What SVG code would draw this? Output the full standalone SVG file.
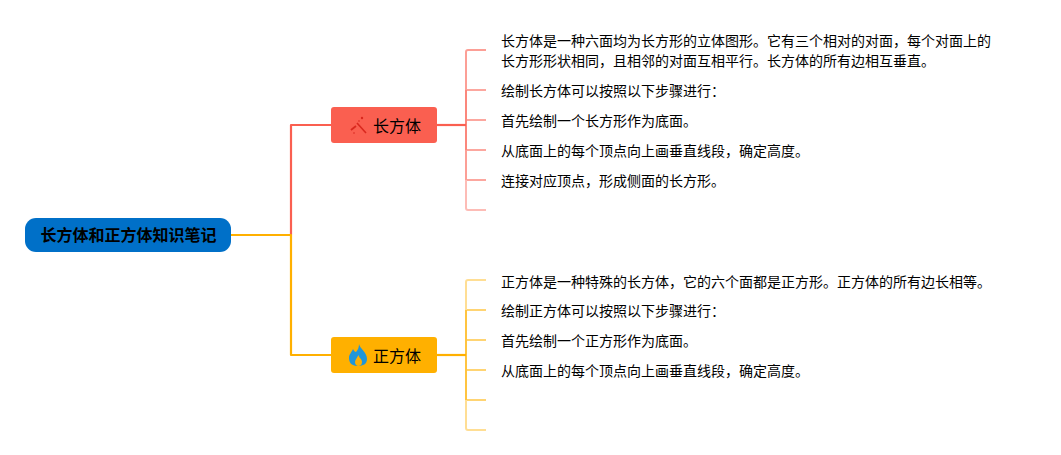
<svg xmlns="http://www.w3.org/2000/svg" width="1061" height="455" viewBox="0 0 1061 455">
<style>
text{font-family:"Noto Sans CJK SC","Noto Sans",sans-serif;fill:#000}
.leaf{font-size:14px}
.b{font-size:16px}
.c{fill:none;stroke-width:2.2;stroke-linejoin:round}
.r{stroke:#fa5f50}.o{stroke:#ffb000}
.t{stroke-width:2}
.a{opacity:.75}.d{opacity:.6}.e{opacity:.42}.s{opacity:.55}
</style>
<rect width="1061" height="455" fill="#fff"/>
<g id="connectors">
<path class="c r" d="M291 235V125H331"/>
<path class="c o" d="M231 235H291V355H331"/>
<path class="c r" d="M437 125H466"/>
<path class="c o" d="M437 355H466"/>
<g class="c r t">
<path class="a" d="M466 125V90"/>
<path class="a" d="M466 125V150"/>
<path class="d" d="M466 150V180"/>
<path class="d" d="M466 90V52Q466 50 468 50H486"/>
<path class="e" d="M466 180V208Q466 210 468 210H486"/>
<path class="s" d="M467 90H486M467 120H486M467 150H486M467 180H486"/>
</g>
<g class="c o t">
<path class="a" d="M466 355V310"/>
<path class="a" d="M466 355V400"/>
<path class="e" d="M466 310V282Q466 280 468 280H486"/>
<path class="e" d="M466 400V428Q466 430 468 430H486"/>
<path class="s" d="M467 310H486M467 340H486M467 370H486M467 400H486"/>
</g>
</g>
<g id="root">
<rect x="25" y="218" width="206" height="34" rx="11" fill="#0070c8"/>
<text x="128.500" y="241" font-size="16" font-weight="700" text-anchor="middle">长方体和正方体知识笔记</text>
</g>
<g id="branch1">
<rect x="331" y="107" width="106" height="36" rx="3" fill="#fa5f50"/>
<g fill="#d9281e" stroke="#d9281e">
<path d="M357 123L366 133" stroke-width="1.600" fill="none"/>
<circle cx="362" cy="118" r="1.200" stroke="none"/>
<path d="M351 130L356 126" stroke-width="1.800" fill="none"/>
<circle cx="359" cy="121" r=".8" stroke="none"/>
<circle cx="354" cy="133" r=".8" stroke="none"/>
</g>
<text class="b" x="373" y="132">长方体</text>
</g>
<g id="branch2">
<rect x="331" y="337" width="106" height="36" rx="3" fill="#ffb000"/>
<path d="M359 344C360 349 367 352 367 359C367 364 363 366 358 366C353 366 349 364 349 358C349 354 352 352 353 349C354 351 355 352 356 352C358 350 359 347 359 344Z" fill="#2196d8"/>
<path d="M358.500 355C359 358 362 359 362 362C362 365 360 366 358.500 366C356 366 355 364 355 362C355 360 357 358 358.500 355Z" fill="#ffb000"/>
<text class="b" x="373" y="362">正方体</text>
</g>
<g id="leaf1"><text class="leaf" x="501" y="46">长方体是一种六面均为长方形的立体图形。它有三个相对的对面，每个对面上的</text><text class="leaf" x="501" y="66">长方形形状相同，且相邻的对面互相平行。长方体的所有边相互垂直。</text></g>
<g id="leaf2"><text class="leaf" x="501" y="96">绘制长方体可以按照以下步骤进行：</text></g>
<g id="leaf3"><text class="leaf" x="501" y="126">首先绘制一个长方形作为底面。</text></g>
<g id="leaf4"><text class="leaf" x="501" y="156">从底面上的每个顶点向上画垂直线段，确定高度。</text></g>
<g id="leaf5"><text class="leaf" x="501" y="186">连接对应顶点，形成侧面的长方形。</text></g>
<g id="leaf6"><text class="leaf" x="501" y="287">正方体是一种特殊的长方体，它的六个面都是正方形。正方体的所有边长相等。</text></g>
<g id="leaf7"><text class="leaf" x="501" y="316">绘制正方体可以按照以下步骤进行：</text></g>
<g id="leaf8"><text class="leaf" x="501" y="346">首先绘制一个正方形作为底面。</text></g>
<g id="leaf9"><text class="leaf" x="501" y="376">从底面上的每个顶点向上画垂直线段，确定高度。</text></g>
</svg>
